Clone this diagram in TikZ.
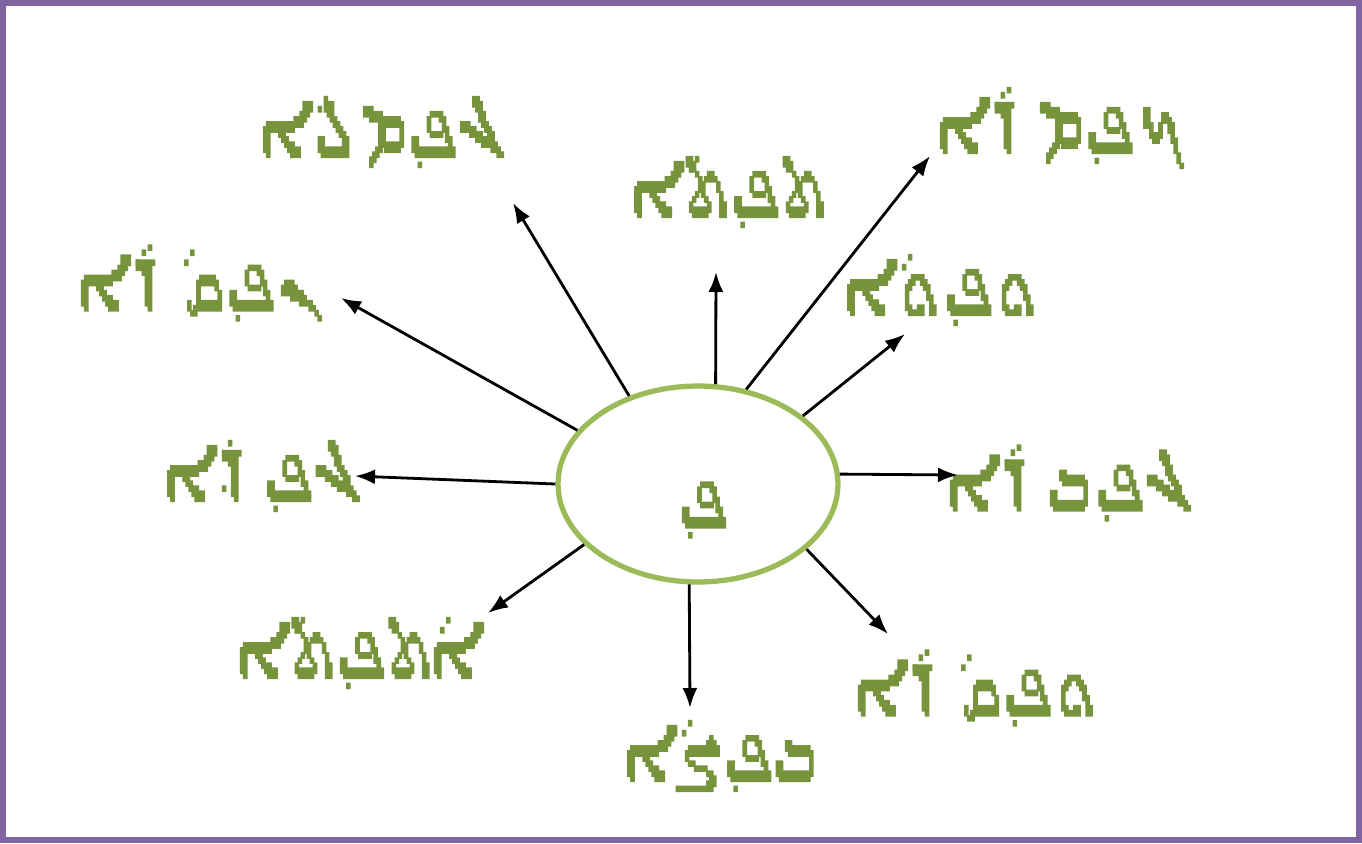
\documentclass[tikz,border=0pt]{standalone}
\usepackage{fontspec}
\usetikzlibrary{shapes.geometric, arrows.meta}
\TeXXeTstate=1
\newfontfamily\syrfont[FakeStretch=0.6, FakeBold=2]{Unifont}
\definecolor{frame}{RGB}{128,100,162}
\definecolor{ring}{RGB}{155,187,89}
\definecolor{olive}{RGB}{119,147,60}
\newcommand{\syr}[1]{\syrfont\beginR #1\endR}

\begin{document}
\begin{tikzpicture}[x=0.02cm, y=-0.02cm, >={Latex[length=4mm, width=3mm]},
    word/.style={text=olive, font=\fontsize{46}{54}\syrfont, inner sep=0pt},
    arr/.style={->, line width=1.6pt}]
    % frame
    \useasboundingbox (0,0) rectangle (1362,843);
    \draw[frame, line width=3.4pt] (3,3) rectangle (1359,840);

    % centre ellipse
    \node[ellipse, draw=ring, line width=3pt, inner sep=0pt,
          minimum width=5.6cm, minimum height=3.92cm] (pe) at (698,484) {};
    \node[word] (pel) at (704,510) {\syr{ܦ݂}};

    % words
    \node[word] (w1) at (385,132) {\syr{ܓܦ݂ܡܠܵܐ}};
    \node[word] (w2) at (732,192) {\syr{ܬܦ݂ܬܵܐ}};
    \node[word] (w3) at (1062,128) {\syr{ܟܦ݂ܡܪܵܐ}};
    \node[word] (w4) at (203,283) {\syr{ܢܦ݂ܩܵܪܵܐ}};
    \node[word] (w5) at (945,290) {\syr{ܘܦ݂ܘܵܐ}};
    \node[word] (w6) at (265,476) {\syr{ܓܦ݂ܕܵܐ}};
    \node[word] (w7) at (1072,483) {\syr{ܓܦ݂ܒܪܵܐ}};
    \node[word] (w8) at (362,653) {\syr{ܐܵܬܦ݂ܬܵܐ}};
    \node[word] (w9) at (980,688) {\syr{ܘܦ݂ܩܵܪܵܐ}};
    \node[word] (w10) at (725,756) {\syr{ܒܦ݂ܨܵܐ}};

    % arrow tips
    \coordinate (t1) at (513,203);
    \coordinate (t2) at (716,272);
    \coordinate (t3) at (930,156);
    \coordinate (t4) at (341,298);
    \coordinate (t5) at (905,334);
    \coordinate (t6) at (355,476);
    \coordinate (t7) at (958,475);
    \coordinate (t8) at (488,613);
    \coordinate (t9) at (888,634);
    \coordinate (t10) at (690,708);

    % arrows
    \draw[arr] (pe.128) -- (t1);
    \draw[arr] (pe.80) -- (t2);
    \draw[arr] (pe.63) -- (t3);
    \draw[arr] (pe.156) -- (t4);
    \draw[arr] (pe.33) -- (t5);
    \draw[arr] (pe.180) -- (t6);
    \draw[arr] (pe.4) -- (t7);
    \draw[arr] (pe.208) -- (t8);
    \draw[arr] (pe.329) -- (t9);
    \draw[arr] (pe.265) -- (t10);
\end{tikzpicture}
\end{document}
